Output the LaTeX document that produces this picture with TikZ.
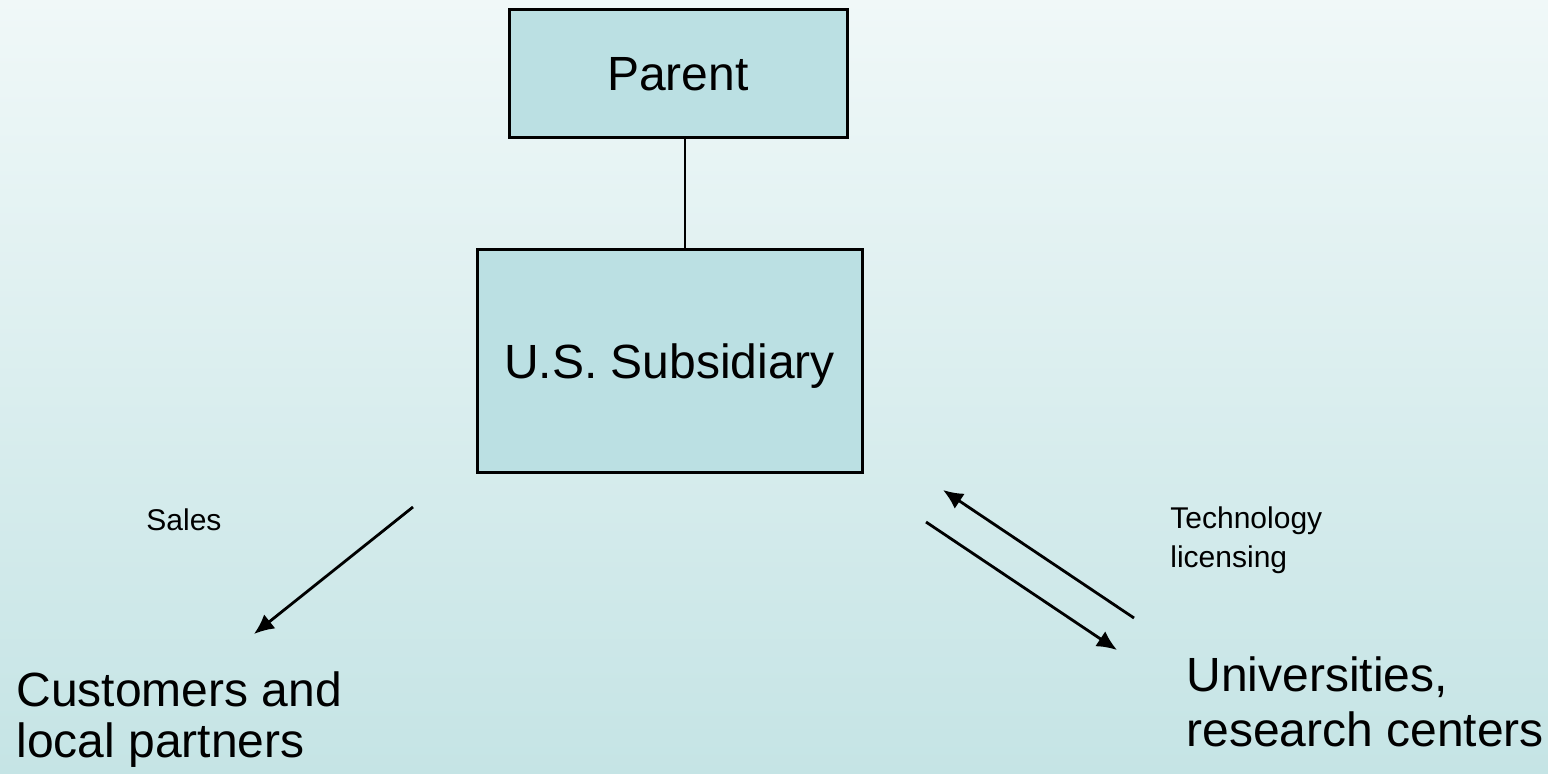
\documentclass[tikz,border=0pt]{standalone}
\usepackage{fontspec}
\setmainfont{Liberation Sans}
\usepackage{tikz}
\usetikzlibrary{arrows.meta, backgrounds}
\definecolor{bgtop}{HTML}{F0F8F8}
\definecolor{bgbot}{HTML}{C5E4E5}
\definecolor{boxfill}{HTML}{BBE0E3}
\tikzstyle{line} = [draw, line width=1.4pt, -{Latex[length=10pt, width=9pt]}]
\tikzstyle{org_box} = [rectangle, draw, line width=1.5pt, fill=boxfill, text centered, text depth=0pt, font=\fontsize{24}{26}\selectfont]
\tikzstyle{big_txt} = [inner sep=0pt, anchor=base west, align=left, font=\fontsize{24}{25}\selectfont]
\tikzstyle{small_txt} = [inner sep=0pt, anchor=base west, align=left, font=\fontsize{15}{19.5}\selectfont]

\begin{document}
\begin{tikzpicture}[x=0.5pt, y=-0.5pt]
\useasboundingbox (0,0) rectangle (1548,774);
\shade [top color=bgtop, bottom color=bgbot] (0,0) rectangle (1548,774);

\node [org_box, minimum width=169pt, minimum height=64pt] (parent) at (678,74) {Parent};
\node [org_box, minimum width=192.5pt, minimum height=111.5pt] (sub) at (669.5,361.5) {U.S. Subsidiary};
\draw [line width=1.4pt] ([xshift=3.5pt]parent.south) -- ([xshift=3.5pt]parent.south |- sub.north);

% sales side
\node [small_txt] (sales) at (146,531) {Sales};
\node [big_txt] (cust) at (16,757) {Customers and\\local partners};
\coordinate (s1) at (413,507);
\coordinate (s2) at (254,634);
\path [line] (s1) to (s2);

% licensing side
\node [small_txt] (tech) at (1170,568) {Technology\\licensing};
\node [big_txt, font=\fontsize{24}{28}\selectfont] (univ) at (1186,747) {Universities,\\research centers};
\coordinate (t1) at (1134,618);
\coordinate (t2) at (943,490);
\coordinate (t3) at (926,522);
\coordinate (t4) at (1117,650);
\path [line] (t1) to (t2);
\path [line] (t3) to (t4);

\end{tikzpicture}
\end{document}
